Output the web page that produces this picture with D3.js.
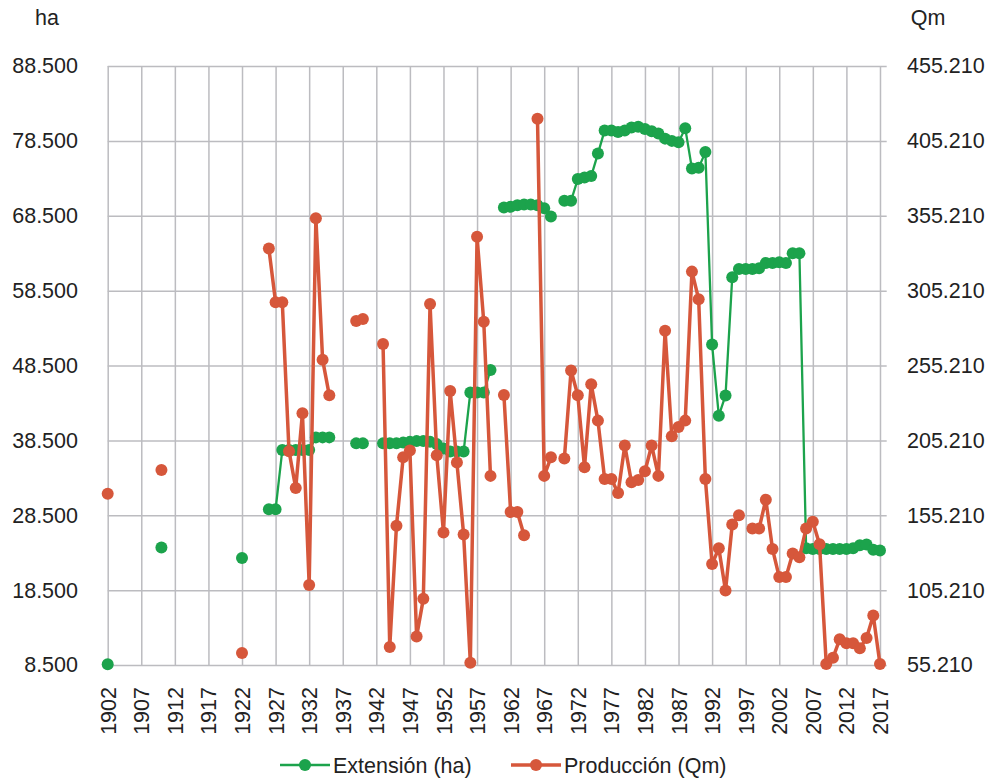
<!DOCTYPE html>
<html>
<head>
<meta charset="utf-8">
<script src="https://cdn.jsdelivr.net/npm/d3@7"></script>
<style>
  body { margin: 0; background: #fff; }
  text { font-family: "Liberation Sans", Arial, sans-serif; fill: #222; }
</style>
</head>
<body>
<script>
// Chart size
const SVG_WIDTH = 996;
const SVG_HEIGHT = 780;
const PLOT = { left: 107.7, right: 886.7, top: 66, bottom: 665 };
const FONT = "21.5px";

// Data: years 1902-2017, null = no data
const years = d3.range(1902, 2018);

// Extensión (ha)
const extension = [
  8600, null, null, null, null, null, null, null, 24200, null,          // 1902-1911
  null, null, null, null, null, null, null, null, null, null,           // 1912-1921
  22800, null, null, null, 29300, 29300, 37200, 37200, 37200, 37200,   // 1922-1931
  37200, 38900, 38900, 38900, null, null, null, 38100, 38100, null,    // 1932-1941
  null, 38100, 38100, 38100, 38200, 38300, 38400, 38400, 38300, 38000, // 1942-1951
  37400, 37000, 37000, 37000, 44900, 44900, 44900, 47900, null, 69600, // 1952-1961
  69700, 69900, 70000, 70000, 69900, 69500, 68400, null, 70500, 70500, // 1962-1971
  73400, 73600, 73800, 76800, 79900, 79900, 79700, 79900, 80300, 80400, // 1972-1981
  80100, 79800, 79500, 78800, 78500, 78300, 80200, 74800, 74900, 77000, // 1982-1991
  51300, 41800, 44500, 60300, 61400, 61400, 61400, 61500, 62200, 62200, // 1992-2001
  62300, 62200, 63500, 63500, 24100, 24000, 24000, 24000, 24000, 24000, // 2002-2011
  24000, 24100, 24500, 24600, 23900, 23800                              // 2012-2017
];

// Producción (Qm)
const produccion = [
  169600, null, null, null, null, null, null, null, 185400, null,           // 1902-1911
  null, null, null, null, null, null, null, null, null, null,               // 1912-1921
  63200, null, null, null, 333300, 297400, 297400, 198000, 173400, 223400, // 1922-1931
  108600, 353600, 259100, 235300, null, null, null, 285000, 286300, null,  // 1932-1941
  null, 269600, 67200, 148200, 193900, 198400, 74300, 99400, 296300, 195200, // 1942-1951
  143700, 238200, 190400, 142400, 56700, 341200, 284400, 181500, null, 235500, // 1952-1961
  157400, 157400, 141900, null, 420000, 181500, 193900, null, 193100, 251900, // 1962-1971
  235300, 187300, 242700, 218400, 179400, 179400, 170100, 201800, 177200, 178700, // 1972-1981
  184600, 201800, 181500, 278400, 207900, 214200, 218400, 317900, 299500, 179400, // 1982-1991
  122600, 133200, 104900, 149000, 155200, null, 146400, 146400, 165600, 132600, // 1992-2001
  113900, 113900, 129700, 127100, 146400, 150800, 135800, 55800, 60000, 72400,  // 2002-2011
  69800, 69800, 66400, 73200, 88300, 55800                                       // 2012-2017
];

// Tick labels
const xTickYears = [1902, 1907, 1912, 1917, 1922, 1927, 1932, 1937, 1942, 1947, 1952, 1957,
  1962, 1967, 1972, 1977, 1982, 1987, 1992, 1997, 2002, 2007, 2012, 2017];
const leftTicks = [8500, 18500, 28500, 38500, 48500, 58500, 68500, 78500, 88500];
const rightTicks = [55210, 105210, 155210, 205210, 255210, 305210, 355210, 405210, 455210];

const GREEN = "#1ca34c";
const RED = "#d6573b";
const GRID = "#bcbcc0";

const locale = d3.formatLocale({ decimal: ",", thousands: ".", grouping: [3], currency: ["", "€"] });
const fmt = locale.format(",d");

const svg = d3.select("body")
  .append("svg")
  .attr("width", SVG_WIDTH)
  .attr("height", SVG_HEIGHT);

// Scales
const xScale = d3.scaleLinear().domain([1902, 2018]).range([PLOT.left, PLOT.right]);
const yLeft = d3.scaleLinear().domain([8500, 88500]).range([PLOT.bottom, PLOT.top]);
const yRight = d3.scaleLinear().domain([55210, 455210]).range([PLOT.bottom, PLOT.top]);

// Horizontal gridlines
svg.append("g")
  .attr("transform", `translate(${PLOT.left},0)`)
  .call(d3.axisLeft(yLeft).tickValues(leftTicks).tickSize(-(PLOT.right - PLOT.left)).tickFormat(""))
  .call(g => g.select(".domain").remove())
  .call(g => g.selectAll("line").attr("stroke", GRID).attr("stroke-width", 1.5));

// Vertical gridlines
svg.append("g")
  .attr("transform", `translate(0,${PLOT.top})`)
  .call(d3.axisBottom(xScale).tickValues(xTickYears).tickSize(PLOT.bottom - PLOT.top).tickFormat(""))
  .call(g => g.select(".domain").remove())
  .call(g => g.selectAll("line").attr("stroke", GRID).attr("stroke-width", 1.5));

// Left axis labels
svg.append("g")
  .attr("transform", `translate(78,0)`)
  .call(d3.axisLeft(yLeft).tickValues(leftTicks).tickSize(0).tickPadding(0).tickFormat(fmt))
  .call(g => g.select(".domain").remove())
  .call(g => g.selectAll("text").style("font-size", FONT).attr("fill", "#222"));

// Right axis labels
svg.append("g")
  .attr("transform", `translate(907,0)`)
  .call(d3.axisRight(yRight).tickValues(rightTicks).tickSize(0).tickPadding(0).tickFormat(fmt))
  .call(g => g.select(".domain").remove())
  .call(g => g.selectAll("text").style("font-size", FONT).attr("fill", "#222"));

// X axis labels (rotated)
svg.append("g")
  .attr("transform", `translate(0,687)`)
  .call(d3.axisBottom(xScale).tickValues(xTickYears).tickSize(0).tickPadding(0).tickFormat(d3.format("d")))
  .call(g => g.select(".domain").remove())
  .call(g => g.selectAll("text")
    .style("font-size", FONT)
    .attr("fill", "#222")
    .attr("text-anchor", "end")
    .attr("transform", "rotate(-90)")
    .attr("x", 0)
    .attr("y", 0)
    .attr("dy", "0.35em"));

// Axis unit titles
svg.append("text").attr("x", 47).attr("y", 25).attr("text-anchor", "middle")
  .style("font-size", FONT).text("ha");
svg.append("text").attr("x", 928).attr("y", 25).attr("text-anchor", "middle")
  .style("font-size", FONT).text("Qm");

// Series
const extData = years.map((y, i) => ({ year: y, value: extension[i] }));
const prodData = years.map((y, i) => ({ year: y, value: produccion[i] }));

function drawSeries(data, yScale, color, width) {
  const line = d3.line()
    .defined(d => d.value !== null)
    .x(d => xScale(d.year))
    .y(d => yScale(d.value));

  svg.append("path")
    .datum(data)
    .attr("fill", "none")
    .attr("stroke", color)
    .attr("stroke-width", width)
    .attr("stroke-linejoin", "round")
    .attr("d", line);

  svg.append("g")
    .selectAll("circle")
    .data(data.filter(d => d.value !== null))
    .enter()
    .append("circle")
    .attr("cx", d => xScale(d.year))
    .attr("cy", d => yScale(d.value))
    .attr("r", 6)
    .attr("fill", color);
}

drawSeries(extData, yLeft, GREEN, 2.3);
drawSeries(prodData, yRight, RED, 3.5);

// Legend
const legend = [
  { label: "Extensión (ha)", color: GREEN, width: 2.3, x: 280 },
  { label: "Producción (Qm)", color: RED, width: 3.5, x: 511 }
];
const lg = svg.append("g").attr("transform", "translate(0,765)");
legend.forEach(item => {
  lg.append("line")
    .attr("x1", item.x).attr("x2", item.x + 50)
    .attr("y1", 0).attr("y2", 0)
    .attr("stroke", item.color).attr("stroke-width", item.width);
  lg.append("circle").attr("cx", item.x + 25).attr("cy", 0).attr("r", 6).attr("fill", item.color);
  lg.append("text")
    .attr("x", item.x + 53).attr("y", 0).attr("dy", "0.35em")
    .style("font-size", FONT)
    .text(item.label);
});
</script>
</body>
</html>
